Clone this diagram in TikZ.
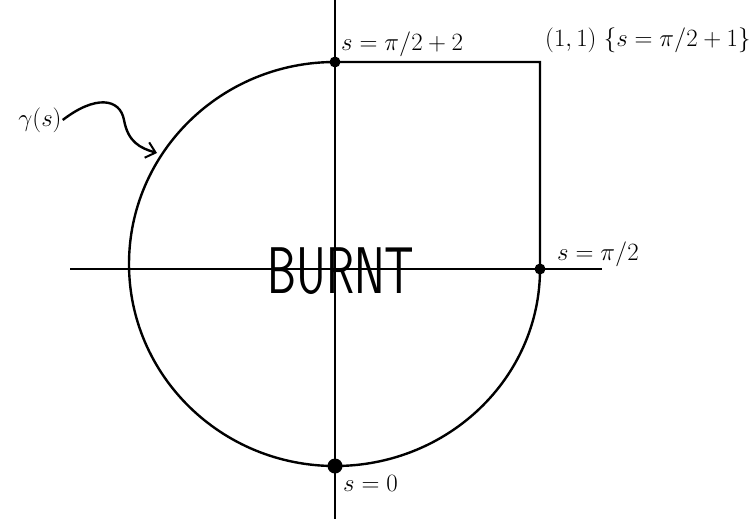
\documentclass[tikz,border=0pt]{standalone}
\usepackage{tikz}
\usetikzlibrary{arrows.meta, positioning}

\begin{document}
\begin{tikzpicture}[
  x=1pt, y=-1pt,
  font=\fontsize{24}{28}\selectfont,
  axis/.style={line width=2pt, black},
  curve/.style={line width=2.4pt, black},
  pt/.style={circle, fill=black, inner sep=0pt, minimum size=11pt},
  lbl/.style={inner sep=1pt},
  arr/.style={-{Straight Barb[length=9pt, width=16pt, line width=2pt]},
              line width=2.4pt, black}
]
\useasboundingbox (0,0) rectangle (751,519);
% axes
\coordinate (o) at (335,269);
\coordinate (xl) at (70,269);
\coordinate (xr) at (602,269);
\coordinate (yt) at (335,0);
\coordinate (yb) at (335,519);
\draw[axis] (xl) -- (xr);
\draw[axis] (yt) -- (yb);
% the path gamma (y axis points down, so angles run the other way)
\coordinate (top) at (335,62);
\coordinate (bot) at (335,466);
\coordinate (rgt) at (540,269);
\coordinate (cor) at (540,62);
\draw[curve] (top) arc[start angle=270, end angle=90, x radius=206, y radius=202]
  arc[start angle=90, end angle=0, x radius=205, y radius=197]
  -- (cor) -- (top);
\node (ptop) [pt] at (top) {};
\node (pbot) [pt, minimum size=15pt] at (bot) {};
\node (prgt) [pt] at (rgt) {};
% labels
\node (ltop) [lbl, anchor=south west] at (340,58) {$s=\pi/2+2$};
\node (lcor) [lbl, anchor=west] at (544,40) {$(1,1)\ \{s=\pi/2+1\}$};
\node (lrgt) [lbl, anchor=south west] at (556,268) {$s=\pi/2$};
\node (lbot) [lbl, anchor=north west] at (342,474) {$s=0$};
\node (gam) [lbl, font=\fontsize{30}{34}\selectfont] at (40,120) {$\gamma(s)$};
\coordinate (hit) at (157,153);
\draw[arr] (gam.east) .. controls (95,95) and (120,98) .. (124,120)
  .. controls (128,142) and (140,148) .. (hit);
\node (burnt) [xscale=0.7, font=\fontsize{66}{70}\sffamily] at (341,271) {BURNT};
\end{tikzpicture}
\end{document}
